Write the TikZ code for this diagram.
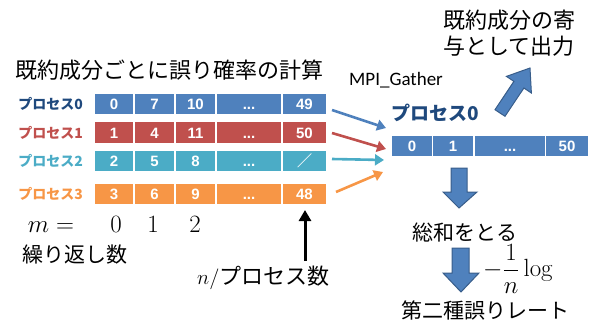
\documentclass[tikz,border=0pt]{standalone}
\usepackage[no-math]{fontspec}
\setmainfont{Noto Sans CJK JP}
\newfontfamily\jp{Noto Sans CJK JP}
\newfontfamily\lat{Carlito}
\newfontfamily\num{Liberation Sans}
\usetikzlibrary{arrows.meta}
\definecolor{pblue}{HTML}{4F81BD}
\definecolor{pred}{HTML}{C0504D}
\definecolor{pteal}{HTML}{4BACC6}
\definecolor{porange}{HTML}{F79646}
\definecolor{pnavy}{HTML}{1F497D}
\definecolor{pedge}{HTML}{385D8A}
\tikzset{
  cell/.style={draw=white, line width=1.2pt, text=white, inner sep=0pt,
    minimum height=22pt, text height=11pt, text depth=0pt,
    font=\num\fontsize{15}{15}\selectfont\bfseries},
  plabel/.style={anchor=east, inner sep=0pt, font=\jp\fontsize{14}{14}\selectfont\bfseries},
  jtext/.style={inner sep=0pt, font=\jp\fontsize{21}{21}\selectfont},
  thinarrow/.style={line width=2.6pt, -{Triangle[length=9pt,width=11pt]}},
  blockarrow/.style={fill=pblue, draw=pedge, line width=1pt, line join=miter}
}
\begin{document}
\begin{tikzpicture}[x=1pt,y=-1pt]
\useasboundingbox (0,0) rectangle (590,327);
% title
\node[jtext, font=\jp\fontsize{22}{22}\selectfont] (title) at (170,70) {既約成分ごとに誤り確率の計算};
% row labels
\node[plabel, text=pnavy] (l0) at (83,104) {プロセス0};
\node[plabel, text=pred] (l1) at (83,132.5) {プロセス1};
\node[plabel, text=pteal] (l2) at (83,161) {プロセス2};
\node[plabel, text=porange] (l3) at (83,194) {プロセス3};
% row 0
\node[cell, fill=pblue, minimum width=40pt] (r0c0) at (114,104) {0};
\node[cell, fill=pblue, minimum width=41pt] (r0c1) at (154.5,104) {7};
\node[cell, fill=pblue, minimum width=41pt] (r0c2) at (195.5,104) {10};
\node[cell, fill=pblue, minimum width=66pt] (r0c3) at (249,104) {...};
\node[cell, fill=pblue, minimum width=45pt] (r0c4) at (304.5,104) {49};
% row 1
\node[cell, fill=pred, minimum width=40pt] (r1c0) at (114,132.5) {1};
\node[cell, fill=pred, minimum width=41pt] (r1c1) at (154.5,132.5) {4};
\node[cell, fill=pred, minimum width=41pt] (r1c2) at (195.5,132.5) {11};
\node[cell, fill=pred, minimum width=66pt] (r1c3) at (249,132.5) {...};
\node[cell, fill=pred, minimum width=45pt] (r1c4) at (304.5,132.5) {50};
% row 2
\node[cell, fill=pteal, minimum width=40pt] (r2c0) at (114,161) {2};
\node[cell, fill=pteal, minimum width=41pt] (r2c1) at (154.5,161) {5};
\node[cell, fill=pteal, minimum width=41pt] (r2c2) at (195.5,161) {8};
\node[cell, fill=pteal, minimum width=66pt] (r2c3) at (249,161) {...};
\node[cell, fill=pteal, minimum width=45pt, font=\jp\fontsize{15}{15}\selectfont\bfseries] (r2c4) at (304.5,161) {／};
% row 3
\node[cell, fill=porange, minimum width=40pt] (r3c0) at (114,194) {3};
\node[cell, fill=porange, minimum width=41pt] (r3c1) at (154.5,194) {6};
\node[cell, fill=porange, minimum width=41pt] (r3c2) at (195.5,194) {9};
\node[cell, fill=porange, minimum width=66pt] (r3c3) at (249,194) {...};
\node[cell, fill=porange, minimum width=45pt] (r3c4) at (304.5,194) {48};
% m = 0 1 2
\node[inner sep=0pt, anchor=base, font=\fontsize{25}{25}\selectfont] (meq) at (51,232) {$m=$};
\node[inner sep=0pt, anchor=base, font=\fontsize{25}{25}\selectfont] (m0) at (116,232) {$0$};
\node[inner sep=0pt, anchor=base, font=\fontsize{25}{25}\selectfont] (m1) at (153,232) {$1$};
\node[inner sep=0pt, anchor=base, font=\fontsize{25}{25}\selectfont] (m2) at (195,232) {$2$};
\node[jtext, anchor=west] (rep) at (22,255) {繰り返し数};
% n / process count
\node[jtext, anchor=west, font=\jp\fontsize{22}{22}\selectfont] (nproc) at (197,278) {$n/$プロセス数};
\coordinate (upstart) at (305,261);
\coordinate (upend) at (305,210);
\draw[line width=3pt, -{Triangle[length=11pt,width=12pt]}] (upstart) -- (upend);
% right side
\node[jtext, anchor=west, align=left, font=\jp\fontsize{22}{26}\selectfont] (out) at (443,33) {既約成分の寄\\与として出力};
\node[inner sep=0pt, anchor=west, font=\lat\fontsize{19}{19}\selectfont] (mpi) at (349,80) {MPI\_Gather};
\node[plabel, anchor=center, text=pnavy, font=\jp\fontsize{19}{19}\selectfont\bfseries] (p0r) at (435,113) {プロセス0};
\node[cell, fill=pblue, minimum width=40.5pt] (g0) at (412,146) {0};
\node[cell, fill=pblue, minimum width=41.5pt] (g1) at (453,146) {1};
\node[cell, fill=pblue, minimum width=71.5pt] (g2) at (510,146) {...};
\node[cell, fill=pblue, minimum width=42.5pt] (g3) at (567,146) {50};
% thin arrows
\coordinate (s0) at (332,110); \coordinate (e0) at (386,128);
\coordinate (s1) at (332,133); \coordinate (e1) at (386,149);
\coordinate (s2) at (332,159); \coordinate (e2) at (384,160);
\coordinate (s3) at (336,192); \coordinate (e3) at (383,172);
\draw[thinarrow, pblue] (s0) -- (e0);
\draw[thinarrow, pred] (s1) -- (e1);
\draw[thinarrow, pteal] (s2) -- (e2);
\draw[thinarrow, porange] (s3) -- (e3);
% block arrows
\draw[blockarrow] (495,109.7) -- (513.9,81.4) -- (506.4,76.4) -- (530,68) -- (531.4,93) -- (523.9,88) -- (505,116.3) -- cycle;
\draw[blockarrow] (451,168) -- (467,168) -- (467,192) -- (477,192) -- (459,208) -- (443,192) -- (451,192) -- cycle;
\node[jtext] (sum) at (465,232) {総和をとる};
\draw[blockarrow] (452,248) -- (469,248) -- (469,273) -- (479,273) -- (461,292) -- (443,273) -- (452,273) -- cycle;
\node[inner sep=0pt, anchor=west, font=\fontsize{24}{24}\selectfont] (logf) at (483,269) {$\displaystyle -\frac{1}{n}\log$};
\node[jtext] (err) at (485,310) {第二種誤りレート};
\end{tikzpicture}
\end{document}
